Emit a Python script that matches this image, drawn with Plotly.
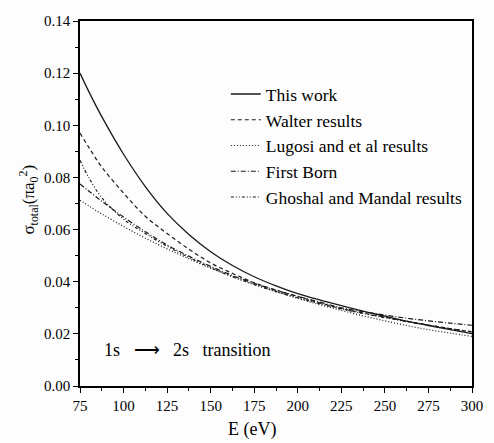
import plotly.graph_objects as go

energy = [75, 80, 87.5, 100, 112.5, 125, 137.5, 150, 162.5, 175, 187.5, 200,
          212.5, 225, 237.5, 250, 262.5, 275, 287.5, 300]

this_work = [0.1200, 0.1130, 0.1033, 0.0889, 0.0765, 0.0662, 0.0581, 0.0515, 0.0462, 0.0419,
             0.0384, 0.0354, 0.0330, 0.0308, 0.0287, 0.0268, 0.0249, 0.0232, 0.0216, 0.0201]
walter = [0.0970, 0.0916, 0.0840, 0.0740, 0.0651, 0.0585, 0.0525, 0.0472, 0.0432, 0.0396,
          0.0368, 0.0343, 0.0319, 0.0297, 0.0280, 0.0264, 0.0248, 0.0234, 0.0220, 0.0207]
lugosi = [0.0712, 0.0691, 0.0660, 0.0612, 0.0567, 0.0526, 0.0488, 0.0452, 0.0420, 0.0390,
          0.0362, 0.0336, 0.0312, 0.0290, 0.0269, 0.0250, 0.0232, 0.0216, 0.0203, 0.0190]
first_born = [0.0775, 0.0748, 0.0709, 0.0648, 0.0592, 0.0541, 0.0498, 0.0459, 0.0424, 0.0394,
              0.0367, 0.0344, 0.0322, 0.0300, 0.0285, 0.0272, 0.0260, 0.0250, 0.0241, 0.0233]
ghoshal = [0.0866, 0.0800, 0.0722, 0.0640, 0.0585, 0.0536, 0.0493, 0.0454, 0.0419, 0.0389,
           0.0362, 0.0338, 0.0316, 0.0296, 0.0278, 0.0262, 0.0247, 0.0233, 0.0220, 0.0208]

series_names = ["This work", "Walter results", "Lugosi and et al results", "First Born", "Ghoshal and Mandal results"]
series_values = [this_work, walter, lugosi, first_born, ghoshal]
series_dash = ["solid", "4px,3px", "1px,2px", "5px,2px,1px,2px", "3px,2px,1px,2px,1px,2px"]

x_ticks = [75, 100, 125, 150, 175, 200, 225, 250, 275, 300]
y_ticks = [0.00, 0.02, 0.04, 0.06, 0.08, 0.10, 0.12, 0.14]

FONT = "Liberation Serif, Times New Roman, serif"
NB = "\u00a0"

fig = go.Figure()
for name, vals, dash in zip(series_names, series_values, series_dash):
    fig.add_trace(go.Scatter(
        x=energy, y=vals, mode="lines", name=name,
        line=dict(color="#1a1a1a", width=1.3 if dash == "solid" else 1.2, dash=dash,
                  shape="spline", smoothing=1.0),
    ))

# in-plot label
fig.add_annotation(x=0.057, y=0.0138, xref="paper", yref="y", xanchor="left", yanchor="middle",
                   text=f"1s{NB*3}\u27f6{NB*3}2s{NB*3}transition", showarrow=False,
                   font=dict(family=FONT, size=18, color="black"))
# x axis title
fig.add_annotation(x=0.44, y=-0.118, xref="paper", yref="paper", xanchor="center", yanchor="middle",
                   text="E (eV)", showarrow=False,
                   font=dict(family=FONT, size=18, color="black"))
# y axis title
fig.add_annotation(x=-0.1315, y=0.512, xref="paper", yref="paper", xanchor="center", yanchor="middle",
                   text="\u03c3<sub>total</sub>(\u03c0a<sub>0</sub><sup>2</sup>)", textangle=-90,
                   showarrow=False, font=dict(family=FONT, size=17, color="black"))

axis_common = dict(
    showline=True, linecolor="black", linewidth=1.5, mirror=True,
    ticks="outside", ticklen=5, tickwidth=1.3, tickcolor="black",
    showgrid=False, zeroline=False,
    tickfont=dict(family=FONT, size=15, color="black"),
)

fig.update_layout(
    width=494, height=443,
    margin=dict(l=80, r=11, t=21, b=57),
    paper_bgcolor="#fdfdfd", plot_bgcolor="#fdfdfd",
    font=dict(family=FONT, color="black"),
    showlegend=True,
    legend=dict(x=0.372, y=0.849, xanchor="left", yanchor="top",
                bgcolor="rgba(0,0,0,0)", traceorder="normal",
                font=dict(family=FONT, size=17.5, color="black")),
    xaxis=dict(
        range=[75, 300], tickmode="array", tickvals=x_ticks,
        ticktext=[str(v) for v in x_ticks],
        minor=dict(ticks="outside", ticklen=3, tickwidth=1.2, tickcolor="black", dtick=12.5, tick0=75),
        **axis_common,
    ),
    yaxis=dict(
        range=[0, 0.14], tickmode="array", tickvals=y_ticks,
        ticktext=[f"{v:.2f}" for v in y_ticks],
        minor=dict(ticks="outside", ticklen=3, tickwidth=1.2, tickcolor="black", dtick=0.01, tick0=0),
        **axis_common,
    ),
)

fig.write_html("out.html")
